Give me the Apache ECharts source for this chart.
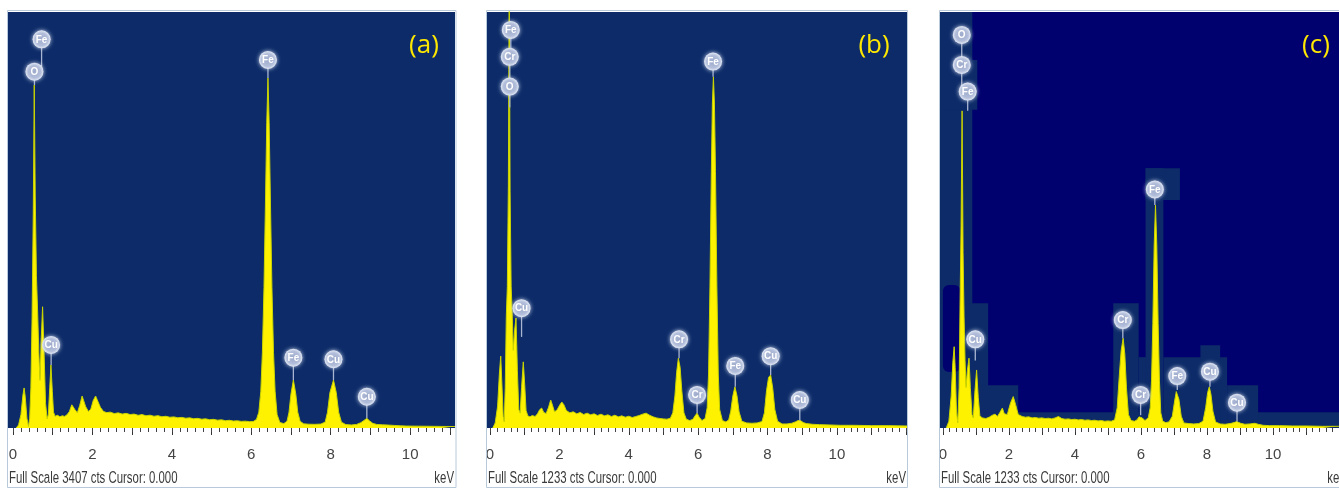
<!DOCTYPE html>
<html>
<head>
<meta charset="utf-8">
<script src="https://cdn.jsdelivr.net/npm/echarts@6/dist/echarts.min.js"></script>
<style>
  html, body { margin: 0; padding: 0; background: #ffffff; }
  #chart { width: 1339px; height: 489px; }
</style>
</head>
<body>
<div id="chart"></div>
<script>
// ---- EDS spectra: energy (keV) vs counts ----
const panelLetters = ['(a)', '(b)', '(c)'];
const fullScaleCounts = [3407, 1233, 1233];
const tickLabels = [0, 2, 4, 6, 8, 10];
const majorTicks = [0, 1, 2, 3, 4, 5, 6, 7, 8, 9, 10, 11, 12];

// [keV, counts]
const spectrumA = [
  [0.08,0],[0.14,25],[0.20,110],[0.25,270],[0.28,328],[0.31,250],[0.35,80],[0.39,12],
  [0.42,80],[0.45,330],[0.48,900],[0.51,1750],[0.535,2809],[0.56,1900],[0.59,1250],[0.62,950],[0.65,620],[0.68,390],
  [0.71,720],[0.745,993],[0.78,640],[0.82,200],[0.86,75],[0.89,110],[0.925,330],[0.955,516],[0.99,300],[1.02,130],
  [1.06,96],[1.12,104],[1.18,92],[1.24,100],[1.30,95],[1.36,108],[1.42,135],[1.48,190],[1.52,205],[1.56,150],[1.62,125],
  [1.68,185],[1.74,262],[1.78,270],[1.83,175],[1.90,135],[1.96,155],[2.02,225],[2.08,262],[2.13,248],[2.20,170],[2.28,135],
  [2.36,126],[2.45,130],[2.55,118],[2.65,124],[2.75,114],[2.85,120],[2.95,110],[3.05,114],[3.15,104],[3.25,110],[3.35,100],
  [3.45,105],[3.55,96],[3.65,101],[3.75,92],[3.85,96],[3.95,88],[4.05,91],[4.15,84],[4.25,87],[4.35,80],[4.45,83],[4.55,76],
  [4.65,79],[4.75,72],[4.85,75],[4.95,68],[5.05,71],[5.15,64],[5.25,67],[5.35,60],[5.45,63],[5.55,57],[5.65,59],[5.75,54],
  [5.85,56],[5.95,52],[6.05,53],[6.13,70],[6.19,130],[6.24,300],[6.28,620],[6.32,1150],[6.36,1900],[6.39,2500],[6.42,2866],
  [6.45,2500],[6.48,1900],[6.52,1150],[6.56,620],[6.60,300],[6.65,110],[6.72,45],[6.82,36],[6.90,55],[6.95,130],[7.00,280],
  [7.06,393],[7.12,280],[7.17,130],[7.23,55],[7.32,34],[7.45,31],[7.60,30],[7.75,32],[7.86,48],[7.92,130],[7.98,290],
  [8.07,393],[8.14,290],[8.20,130],[8.27,48],[8.38,28],[8.52,25],[8.65,29],[8.76,44],[8.84,62],[8.91,79],[8.98,58],
  [9.06,38],[9.16,29],[9.30,26],[9.45,24],[9.60,21],[9.75,18],[9.90,16],[10.20,15],[10.50,14],[10.80,13],[11.13,12]
];

const spectrumB = [
  [0.08,0],[0.15,15],[0.22,65],[0.27,160],[0.31,213],[0.34,140],[0.38,35],[0.41,18],
  [0.44,120],[0.47,330],[0.50,420],[0.53,720],[0.555,1350],[0.58,700],[0.61,420],[0.64,340],[0.67,230],
  [0.71,290],[0.75,326],[0.79,170],[0.83,55],[0.87,44],[0.91,120],[0.96,196],[1.00,130],[1.04,52],
  [1.09,36],[1.15,33],[1.22,37],[1.30,34],[1.37,42],[1.43,54],[1.49,59],[1.55,46],[1.62,43],[1.69,62],[1.75,83],[1.80,68],
  [1.86,48],[1.93,53],[2.01,68],[2.07,77],[2.13,69],[2.20,52],[2.30,45],[2.40,48],[2.50,42],[2.60,46],[2.70,40],[2.80,44],
  [2.90,39],[3.00,42],[3.10,37],[3.20,41],[3.30,36],[3.40,39],[3.50,34],[3.60,38],[3.70,33],[3.80,36],[3.90,32],[4.00,35],
  [4.10,31],[4.20,34],[4.30,37],[4.40,41],[4.50,44],[4.60,38],[4.70,33],[4.80,30],[4.90,28],[5.00,27],[5.10,26],[5.20,29],
  [5.27,45],[5.33,95],[5.38,165],[5.43,207],[5.48,180],[5.53,110],[5.59,45],[5.66,26],[5.76,22],[5.85,26],[5.91,36],[5.97,44],
  [6.03,32],[6.11,22],[6.20,28],[6.26,60],[6.30,160],[6.34,420],[6.38,760],[6.41,960],[6.44,1041],[6.47,960],[6.50,760],
  [6.54,420],[6.58,160],[6.62,55],[6.70,22],[6.80,18],[6.88,24],[6.94,50],[7.00,95],[7.06,122],[7.12,95],[7.18,48],[7.26,20],
  [7.40,15],[7.55,14],[7.70,15],[7.84,19],[7.91,45],[7.97,110],[8.03,150],[8.09,157],[8.15,118],[8.21,55],[8.29,20],[8.42,12],
  [8.56,12],[8.70,14],[8.80,18],[8.88,22],[8.95,22],[9.03,16],[9.12,13],[9.30,11],[9.50,10],[9.80,9],[10.10,8],[10.50,8],
  [11.00,7],[11.50,7],[12.02,6]
];

const spectrumC = [
  [0.10,0],[0.18,20],[0.25,95],[0.30,195],[0.34,241],[0.37,180],[0.41,50],[0.45,15],
  [0.49,120],[0.52,380],[0.55,600],[0.58,940],[0.61,520],[0.64,330],[0.67,200],[0.70,120],
  [0.74,170],[0.79,207],[0.83,120],[0.88,40],[0.92,30],[0.97,110],[1.02,172],[1.07,90],[1.12,35],
  [1.20,30],[1.30,28],[1.40,32],[1.50,38],[1.58,41],[1.65,34],[1.72,45],[1.80,59],[1.86,42],[1.95,40],[2.05,75],[2.13,93],
  [2.20,70],[2.28,40],[2.40,34],[2.50,32],[2.60,33],[2.70,30],[2.80,31],[2.90,29],[3.00,30],[3.10,28],[3.20,29],[3.30,27],
  [3.40,30],[3.50,34],[3.60,28],[3.70,26],[3.80,27],[3.90,25],[4.00,26],[4.10,24],[4.20,25],[4.30,23],[4.40,24],[4.50,22],
  [4.60,23],[4.70,21],[4.80,22],[4.90,20],[5.00,21],[5.10,20],[5.20,24],[5.28,60],[5.34,150],[5.40,230],[5.46,266],
  [5.51,220],[5.56,120],[5.62,40],[5.70,22],[5.80,20],[5.88,24],[5.94,33],[5.99,38],[6.04,30],[6.12,22],[6.22,30],
  [6.28,60],[6.32,140],[6.36,310],[6.40,540],[6.44,661],[6.48,540],[6.52,310],[6.56,140],[6.60,45],[6.66,20],[6.75,16],
  [6.85,18],[6.95,35],[7.02,80],[7.07,108],[7.10,113],[7.15,85],[7.22,35],[7.30,15],[7.45,13],[7.60,12],[7.75,13],
  [7.88,20],[7.96,60],[8.02,105],[8.07,122],[8.12,100],[8.18,50],[8.26,18],[8.40,12],[8.55,11],[8.70,13],[8.82,16],
  [8.90,19],[8.95,18],[9.02,14],[9.15,11],[9.30,12],[9.45,14],[9.55,11],[9.70,8],[9.90,7],[10.20,7],[10.60,6],[11.00,6],
  [11.50,5],[12.00,5]
];

// Peak identification markers: [element, keV, marker height (cts), connector end (cts)]
const markersA = [
  ['Fe',0.72,3183,2918],['O',0.54,2918,2809],['Cu',0.96,680,516],['Fe',6.42,3014,2866],
  ['Fe',7.06,576,393],['Cu',8.07,563,393],['Cu',8.91,256,79]
];
const markersB = [
  ['Fe',0.60,1180,1100],['Cr',0.57,1100,1012],['O',0.57,1012,950],['Cu',0.91,355,270],
  ['Cr',5.45,263,207],['Cr',5.97,98,44],['Fe',6.43,1086,1041],['Fe',7.07,184,122],
  ['Cu',8.09,213,157],['Cu',8.93,83,22]
];
const markersC = [
  ['O',0.57,1165,1076],['Cr',0.57,1076,997],['Fe',0.75,997,940],['Cu',0.98,263,200],
  ['Cr',5.45,320,266],['Cr',5.99,98,38],['Fe',6.42,707,661],['Fe',7.10,154,113],
  ['Cu',8.09,167,122],['Cu',8.91,75,19]
];

// Highlight boxes behind the peaks of panel (c): [keV from, keV to, cts from, cts to]
const highlightBoxesC = [
  [-0.2,0.89,0,1400],[-0.2,1.04,943,1091],[-0.2,1.37,0,370],[-0.2,2.28,0,127],[-0.2,12.5,0,47],
  [5.16,5.93,0,370],[5.93,6.20,0,210],[6.14,6.68,0,770],[6.14,7.18,676,770],
  [6.68,8.61,0,210],[7.80,8.40,0,245],[8.61,9.55,0,127]
];
const holeBoxesC = [[0.0,0.53,166,424]];

// ---- layout / style ----
const NAVY = '#0C2B68';
const DEEP = '#00006E';
const frames = [
  { left: 8, width: 447, min: -0.126, max: 11.13, bg: NAVY, frameX: 7.5, frameW: 448.5, letterX: 424 },
  { left: 487, width: 420, min: -0.086, max: 12.02, bg: NAVY, frameX: 486.5, frameW: 421, letterX: 874 },
  { left: 940, width: 408, min: -0.089, max: 12.0, bg: DEEP, frameX: 939.5, frameW: 420, letterX: 1316 }
];
const spectra = [spectrumA, spectrumB, spectrumC];
const markerSets = [markersA, markersB, markersC];
const GRID_TOP = 12, GRID_H = 416;
const SANS = '"Liberation Sans", Arial, sans-serif';

const minorTicks = [];
for (let i = 0; i <= 62; i++) minorTicks.push(Math.round(i * 2) / 10);

const grid = [], xAxis = [], yAxis = [], series = [], graphic = [];

frames.forEach((f, i) => {
  grid.push({ left: f.left, top: GRID_TOP, width: f.width, height: GRID_H,
              show: true, backgroundColor: f.bg, borderWidth: 0 });
  // major ticks + labels
  xAxis.push({
    type: 'value', gridIndex: i, min: f.min, max: f.max, position: 'bottom',
    axisLine: { show: false }, splitLine: { show: false },
    axisTick: { show: true, customValues: majorTicks, length: 7, lineStyle: { color: '#333', width: 1 } },
    axisLabel: { show: true, customValues: tickLabels, margin: 19, color: '#444',
                 fontSize: 15, fontFamily: SANS }
  });
  // minor ticks
  xAxis.push({
    type: 'value', gridIndex: i, min: f.min, max: f.max, position: 'bottom',
    axisLine: { show: false }, splitLine: { show: false }, axisLabel: { show: false },
    axisTick: { show: true, customValues: minorTicks, length: 4, lineStyle: { color: '#444', width: 1 } }
  });
  yAxis.push({ type: 'value', gridIndex: i, min: 0, max: fullScaleCounts[i], show: false });

  const xIdx = i * 2;

  if (i === 2) {
    const boxRender = (boxes, color) => (params, api) => {
      const b = boxes[params.dataIndex];
      const p0 = api.coord([b[0], b[3]]);
      const p1 = api.coord([b[1], b[2]]);
      const cs = params.coordSys;
      const x0 = Math.max(p0[0], cs.x), x1 = Math.min(p1[0], cs.x + cs.width);
      const y0 = Math.max(p0[1], cs.y), y1 = Math.min(p1[1], cs.y + cs.height);
      return { type: 'rect', shape: { x: x0, y: y0, width: x1 - x0, height: y1 - y0, r: color === DEEP ? 6 : 0 },
               style: { fill: color } };
    };
    series.push({ type: 'custom', xAxisIndex: xIdx, yAxisIndex: i, z: 1, silent: true,
                  data: highlightBoxesC.map(b => [b[0], b[2], b[1], b[3]]),
                  renderItem: boxRender(highlightBoxesC, NAVY) });
    series.push({ type: 'custom', xAxisIndex: xIdx, yAxisIndex: i, z: 1, silent: true,
                  data: holeBoxesC.map(b => [b[0], b[2], b[1], b[3]]),
                  renderItem: boxRender(holeBoxesC, DEEP) });
  }

  series.push({
    type: 'line', xAxisIndex: xIdx, yAxisIndex: i, z: 2,
    data: spectra[i], symbol: 'none', smooth: false, clip: true,
    lineStyle: { color: '#C9D400', width: 1 },
    areaStyle: { color: '#FFF200', opacity: 1 },
    silent: true
  });

  const marks = markerSets[i];
  series.push({
    type: 'custom', xAxisIndex: xIdx, yAxisIndex: i, z: 5, silent: true,
    data: marks.map(m => [m[1], m[2], m[3]]),
    renderItem: (params, api) => {
      const el = marks[params.dataIndex][0];
      const c = api.coord([api.value(0), api.value(1)]);
      const t = api.coord([api.value(0), api.value(2)]);
      const R = 9;
      return {
        type: 'group',
        children: [
          { type: 'line', z2: 1, shape: { x1: c[0], y1: c[1], x2: c[0], y2: t[1] },
            style: { stroke: '#A9B5D0', lineWidth: 1.3 } },
          { type: 'circle', z2: 10, shape: { cx: c[0], cy: c[1], r: R },
            style: {
              fill: { type: 'radial', x: 0.5, y: 0.5, r: 0.5,
                      colorStops: [{ offset: 0, color: '#9DAACB' }, { offset: 0.7, color: '#B2BEDA' },
                                   { offset: 1, color: '#E2E8F5' }] },
              shadowBlur: 4, shadowColor: 'rgba(225,232,248,0.9)'
            } },
          { type: 'text', z2: 11,
            style: { text: el, x: c[0], y: c[1] + 0.5, align: 'center', verticalAlign: 'middle',
                     textAlign: 'center', textVerticalAlign: 'middle',
                     fill: '#FFFFFF', font: 'bold 10px "Liberation Sans", sans-serif' } }
        ]
      };
    }
  });

  // panel frame, letter and status line
  graphic.push({ type: 'rect', z: 100, silent: true,
                 shape: { x: f.frameX, y: 10.5, width: f.frameW, height: 477 },
                 style: { fill: 'none', stroke: '#B8C9DA', lineWidth: 1 } });
  graphic.push({ type: 'text', z: 100, silent: true,
                 style: { text: panelLetters[i], x: f.letterX, y: 46,
                          align: 'center', verticalAlign: 'middle', textAlign: 'center', textVerticalAlign: 'middle',
                          fill: '#FFE800', font: '26px "Open Sans", "Noto Sans", sans-serif' } });
  // condensed status line
  graphic.push({ type: 'text', z: 100, silent: true, x: f.left + 1, y: 478, scaleX: 0.76, scaleY: 1.1,
                 style: { text: 'Full Scale ' + fullScaleCounts[i] + ' cts Cursor: 0.000', x: 0, y: 0,
                          verticalAlign: 'middle', textVerticalAlign: 'middle',
                          fill: '#3A3A3A', font: '15px ' + SANS } });
  graphic.push({ type: 'text', z: 100, silent: true, x: f.left + f.width - 1, y: 478, scaleX: 0.76, scaleY: 1.1,
                 style: { text: 'keV', x: 0, y: 0, align: 'right', textAlign: 'right',
                          verticalAlign: 'middle', textVerticalAlign: 'middle',
                          fill: '#3A3A3A', font: '15px ' + SANS } });
});

const chart = echarts.init(document.getElementById('chart'), null, { renderer: 'canvas' });
chart.setOption({
  backgroundColor: '#ffffff',
  animation: false,
  grid, xAxis, yAxis, series, graphic
});
</script>
</body>
</html>
